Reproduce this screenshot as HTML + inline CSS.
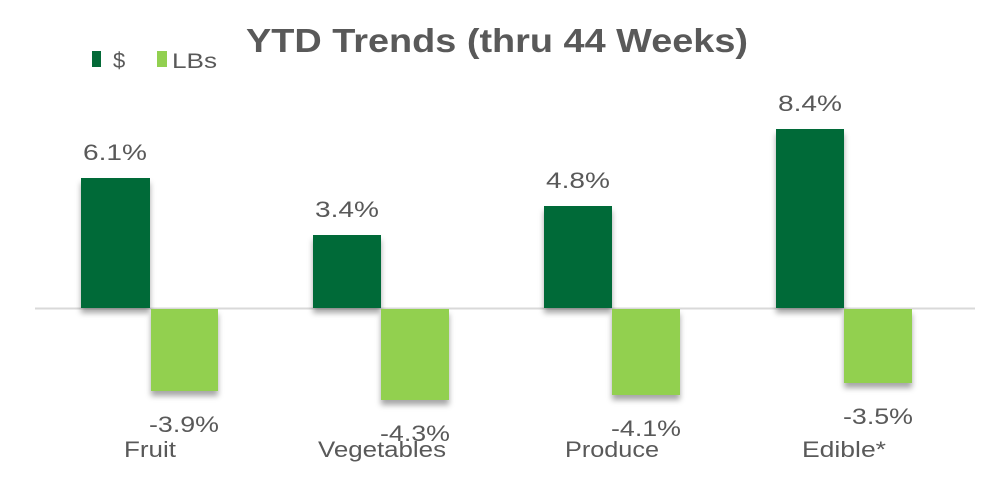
<!DOCTYPE html>
<html><head><style>
body{margin:0;background:#fff;}
svg text{font-family:"Liberation Sans",sans-serif;fill:#595959;}
</style></head><body>
<svg width="993" height="477" viewBox="0 0 993 477">
<defs><filter id="s" x="-20%" y="-20%" width="140%" height="150%"><feDropShadow dx="0" dy="5" stdDeviation="3" flood-color="#000" flood-opacity="0.35"/></filter></defs>
<rect width="993" height="477" fill="#fff"/>
<text x="497" y="52" text-anchor="middle" font-size="33" font-weight="bold" textLength="502" lengthAdjust="spacingAndGlyphs">YTD Trends (thru 44 Weeks)</text>
<rect x="92" y="51" width="9" height="16" fill="#046a38"/>
<text x="113" y="68" font-size="22">$</text>
<rect x="157" y="51" width="10" height="16" fill="#92d050"/>
<text x="172" y="68" font-size="21" textLength="45" lengthAdjust="spacingAndGlyphs">LBs</text>
<line x1="35" y1="308.5" x2="975" y2="308.5" stroke="#d9d9d9" stroke-width="2"/>
<g filter="url(#s)">
<rect x="81" y="178" width="69" height="130" fill="#046a38"/>
<rect x="151" y="309" width="67" height="82" fill="#92d050"/>
<rect x="313" y="235" width="68" height="73" fill="#046a38"/>
<rect x="381" y="309" width="68" height="91" fill="#92d050"/>
<rect x="544" y="206" width="68" height="102" fill="#046a38"/>
<rect x="612" y="309" width="68" height="86" fill="#92d050"/>
<rect x="776" y="129" width="68" height="179" fill="#046a38"/>
<rect x="844" y="309" width="68" height="74" fill="#92d050"/>
</g>
<g font-size="22" text-anchor="middle">
<text x="115" y="160" textLength="64" lengthAdjust="spacingAndGlyphs">6.1%</text>
<text x="347" y="217" textLength="64" lengthAdjust="spacingAndGlyphs">3.4%</text>
<text x="578" y="188" textLength="64" lengthAdjust="spacingAndGlyphs">4.8%</text>
<text x="810" y="111" textLength="64" lengthAdjust="spacingAndGlyphs">8.4%</text>
<text x="184" y="432" textLength="70" lengthAdjust="spacingAndGlyphs">-3.9%</text>
<text x="415" y="441" textLength="70" lengthAdjust="spacingAndGlyphs">-4.3%</text>
<text x="646" y="436" textLength="70" lengthAdjust="spacingAndGlyphs">-4.1%</text>
<text x="878" y="424" textLength="70" lengthAdjust="spacingAndGlyphs">-3.5%</text>
</g>
<g font-size="22" text-anchor="middle">
<text x="150" y="457" textLength="52" lengthAdjust="spacingAndGlyphs">Fruit</text>
<text x="382" y="457" textLength="128" lengthAdjust="spacingAndGlyphs">Vegetables</text>
<text x="612" y="457" textLength="94" lengthAdjust="spacingAndGlyphs">Produce</text>
<text x="844" y="457" textLength="84" lengthAdjust="spacingAndGlyphs">Edible*</text>
</g>
</svg>
</body></html>
